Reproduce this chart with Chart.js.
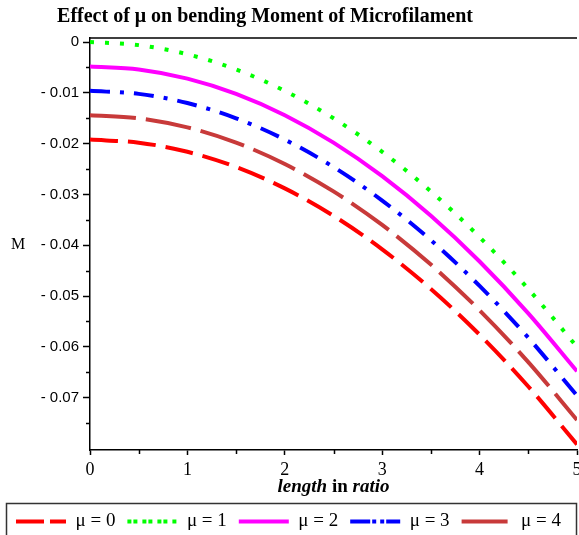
<!DOCTYPE html>
<html lang="en">
<head>
  <meta charset="UTF-8" />
  <title>Effect of mu on bending Moment of Microfilament</title>
  <script src="https://cdn.jsdelivr.net/npm/chart.js"></script>
  <style>
    body { margin: 0; background: #fff; }
    .chart-box { width: 579px; height: 535px; position: relative; }
  </style>
</head>
<body>
  <div class="chart-box">
    <canvas id="momentChart"></canvas>
  </div>

<script>
  // length in ratio (x) and bending moment M for each mu
  const lengthRatio = [0, 0.5, 1, 1.5, 2, 2.5, 3, 3.5, 4, 4.5, 5];
  const muLabels = ['μ = 0', 'μ = 1', 'μ = 2', 'μ = 3', 'μ = 4'];
  const mu0 = [-0.0192, -0.0198, -0.0216, -0.0246, -0.0288, -0.0342, -0.0408, -0.0486, -0.0576, -0.0678, -0.0792];
  const mu1 = [0, -0.0006, -0.0024, -0.0054, -0.0096, -0.0150, -0.0216, -0.0294, -0.0384, -0.0486, -0.0600];
  const mu2 = [-0.0048, -0.0054, -0.0072, -0.0102, -0.0144, -0.0198, -0.0264, -0.0342, -0.0432, -0.0534, -0.0648];
  const mu3 = [-0.0096, -0.0102, -0.0120, -0.0150, -0.0192, -0.0246, -0.0312, -0.0390, -0.0480, -0.0582, -0.0696];
  const mu4 = [-0.0144, -0.0150, -0.0168, -0.0198, -0.0240, -0.0294, -0.0360, -0.0438, -0.0528, -0.0630, -0.0744];
  const yMinorTicks = [-0.005, -0.015, -0.025, -0.035, -0.045, -0.055, -0.065, -0.075];
  const xMinorTicks = [0.5, 1.5, 2.5, 3.5, 4.5];

  const series = [mu0, mu1, mu2, mu3, mu4];
  const colors = ['#ff0000', '#00ff00', '#ff00ff', '#0000ff', '#c83a3a'];
  const dashes = [[28, 10], [4, 11], [], [20, 10, 4, 10], [46, 10]];

  const serif = '"Liberation Serif", "Times New Roman", serif';

  // title, axis labels, minor ticks, frame and legend box
  const extras = {
    id: 'extras',
    afterDraw(chart) {
      const ctx = chart.ctx;
      const area = chart.chartArea;
      const xs = chart.scales.x, ys = chart.scales.y;
      ctx.save();
      ctx.fillStyle = '#000';
      ctx.textBaseline = 'middle';

      ctx.font = 'bold 20px ' + serif;
      ctx.textAlign = 'center';
      ctx.fillText('Effect of μ on bending Moment of Microfilament', 265, 17);

      ctx.font = '16px ' + serif;
      ctx.fillText('M', 18, ys.getPixelForValue(-0.04));

      // x title: italic "length", upright "in", italic "ratio"
      const parts = [['bold italic 19px ', 'length '], ['bold 19px ', 'in '], ['bold italic 19px ', 'ratio']];
      let total = 0;
      parts.forEach(p => { ctx.font = p[0] + serif; total += ctx.measureText(p[1]).width; });
      let tx = (area.left + area.right) / 2 - total / 2;
      ctx.textAlign = 'left';
      parts.forEach(p => {
        ctx.font = p[0] + serif;
        ctx.fillText(p[1], tx, 487);
        tx += ctx.measureText(p[1]).width;
      });

      ctx.strokeStyle = '#000';
      ctx.lineWidth = 1.5;
      ctx.beginPath();
      yMinorTicks.forEach(v => {
        const py = Math.round(ys.getPixelForValue(v)) + 0.5;
        ctx.moveTo(area.left - 4, py);
        ctx.lineTo(area.left, py);
      });
      xMinorTicks.forEach(v => {
        const px = Math.round(xs.getPixelForValue(v)) + 0.5;
        ctx.moveTo(px, area.bottom);
        ctx.lineTo(px, area.bottom + 4);
      });
      ctx.moveTo(area.left, area.top);
      ctx.lineTo(area.right, area.top);
      ctx.stroke();

      ctx.strokeStyle = '#333';
      ctx.lineWidth = 1.5;
      ctx.strokeRect(6.5, 503.5, chart.width - 9, 60);
      ctx.restore();
    }
  };

  new Chart(document.getElementById('momentChart'), {
    type: 'line',
    data: {
      datasets: series.map((vals, i) => ({
        label: muLabels[i],
        data: vals.map((v, j) => ({ x: lengthRatio[j], y: v })),
        borderColor: colors[i],
        backgroundColor: colors[i],
        borderDash: dashes[i],
        borderWidth: 4,
        pointRadius: 0,
        cubicInterpolationMode: 'monotone',
        fill: false
      }))
    },
    options: {
      responsive: true,
      maintainAspectRatio: false,
      animation: false,
      layout: { padding: { top: 38, left: 0, right: 2, bottom: -6 } },
      plugins: {
        title: { display: false },
        tooltip: { enabled: false },
        legend: {
          position: 'bottom',
          labels: {
            color: '#000',
            font: { family: serif, size: 19 },
            boxWidth: 50,
            boxHeight: 0,
            padding: 12
          }
        }
      },
      scales: {
        x: {
          type: 'linear',
          min: 0,
          max: 5,
          grid: { display: true, drawOnChartArea: false, tickLength: 5, tickColor: '#000', tickWidth: 1.5 },
          border: { display: true, color: '#000', width: 1.5 },
          ticks: {
            stepSize: 1,
            color: '#000',
            padding: 4,
            maxRotation: 0,
            font: { family: serif, size: 18 }
          },
          afterFit(scale) {
            scale.height = 50;
            scale.paddingLeft = 0;
            scale.paddingRight = 0;
          }
        },
        y: {
          min: -0.0803,
          max: 0.0008,
          grid: { display: true, drawOnChartArea: false, tickLength: 7, tickColor: '#000', tickWidth: 1.5 },
          border: { display: true, color: '#000', width: 1.5 },
          ticks: {
            stepSize: 0.01,
            includeBounds: false,
            color: '#000',
            padding: 4,
            font: { family: '"Liberation Sans", Arial, sans-serif', size: 15 },
            callback: v => (Math.abs(v) < 1e-9 ? '0' : '- ' + Math.abs(v).toFixed(2))
          },
          afterBuildTicks(scale) {
            scale.ticks = scale.ticks.filter(t => t.value >= -0.0755);
          },
          afterFit(scale) {
            scale.width = 90;
          }
        }
      }
    },
    plugins: [extras]
  });
</script>
</body>
</html>
